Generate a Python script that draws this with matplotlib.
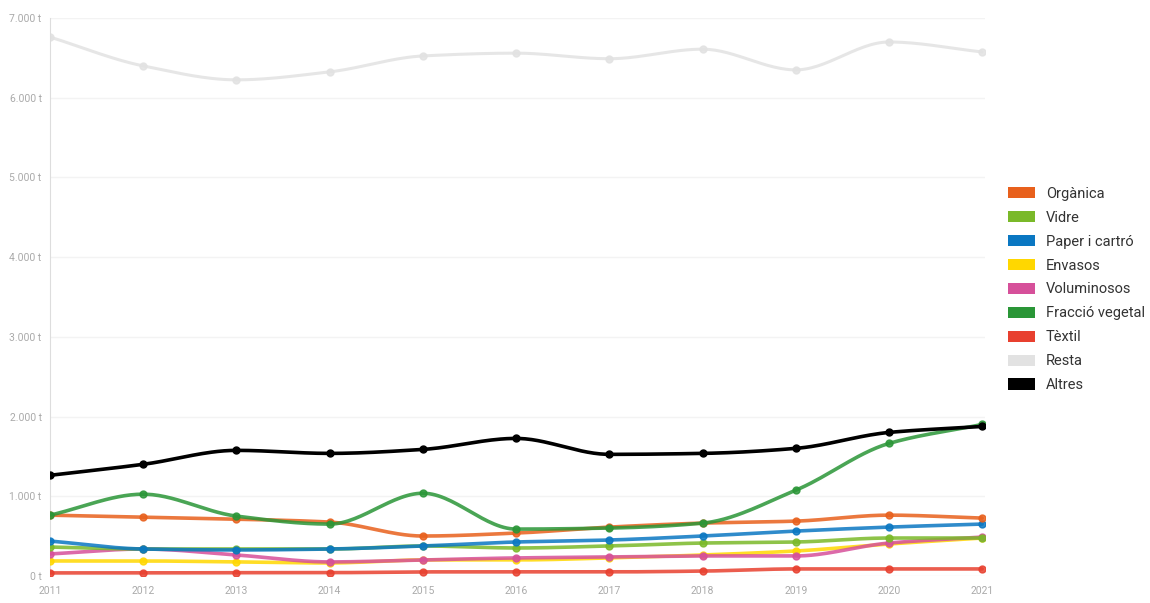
import numpy as np
import matplotlib.pyplot as plt
from matplotlib.patches import Patch

years = [2011, 2012, 2013, 2014, 2015, 2016, 2017, 2018, 2019, 2020, 2021]

organica = [762, 737, 712, 675, 500, 537, 612, 662, 687, 762, 725]
vidre = [362, 337, 337, 337, 375, 350, 375, 412, 425, 475, 475]
paper = [437, 337, 325, 337, 375, 425, 450, 500, 562, 612, 650]
envasos = [187, 187, 175, 162, 200, 200, 225, 262, 312, 400, 475]
voluminosos = [275, 337, 262, 175, 200, 225, 237, 250, 250, 412, 487]
vegetal = [762, 1025, 750, 650, 1037, 587, 600, 662, 1075, 1662, 1900]
textil = [37, 37, 40, 40, 50, 50, 50, 60, 87, 87, 87]
resta = [6762, 6400, 6225, 6325, 6525, 6560, 6490, 6610, 6350, 6700, 6575]
altres = [1262, 1400, 1575, 1537, 1587, 1725, 1525, 1537, 1600, 1800, 1875]

names = ['Orgànica', 'Vidre', 'Paper i cartró', 'Envasos', 'Voluminosos',
         'Fracció vegetal', 'Tèxtil', 'Resta', 'Altres']
colors = ['#E8601C', '#7AB929', '#0A77C2', '#FFD700', '#D6509A',
          '#2A9637', '#E8402F', '#E2E2E2', '#000000']
series = [organica, vidre, paper, envasos, voluminosos, vegetal, textil, resta, altres]


def monotone(x, y, n=30):
    # monotone cubic (Fritsch-Carlson), like d3 curveMonotoneX
    x = np.asarray(x, float)
    y = np.asarray(y, float)
    h = np.diff(x)
    d = np.diff(y) / h
    m = np.zeros_like(y)
    m[0], m[-1] = d[0], d[-1]
    for i in range(1, len(y) - 1):
        if d[i - 1] * d[i] <= 0:
            m[i] = 0
        else:
            m[i] = 3 * (h[i - 1] + h[i]) / ((2 * h[i] + h[i - 1]) / d[i - 1] + (h[i] + 2 * h[i - 1]) / d[i])
    xs, ys = [], []
    for i in range(len(h)):
        t = np.linspace(0, 1, n, endpoint=(i == len(h) - 1))
        h00 = 2 * t**3 - 3 * t**2 + 1
        h10 = t**3 - 2 * t**2 + t
        h01 = -2 * t**3 + 3 * t**2
        h11 = t**3 - t**2
        xs.append(x[i] + t * h[i])
        ys.append(h00 * y[i] + h10 * h[i] * m[i] + h01 * y[i + 1] + h11 * h[i] * m[i + 1])
    return np.concatenate(xs), np.concatenate(ys)


plt.rcParams['font.family'] = ['Roboto', 'DejaVu Sans']
fig = plt.figure(figsize=(11.5, 6.03), dpi=100)
ax = fig.add_axes([0.0435, 0.045, 0.813, 0.925])

order = [7, 6, 3, 4, 1, 2, 0, 5, 8]
for i in order:
    xs, ys = monotone(years, series[i])
    a = 1.0 if i == 8 else 0.85
    lw = 2.2 if i == 7 else 2.6
    ax.plot(xs, ys, color=colors[i], lw=lw, alpha=a, zorder=2 + order.index(i),
            solid_capstyle='round')
    ax.plot(years, series[i], 'o', color=colors[i], ms=5, alpha=a,
            zorder=2 + order.index(i))

ax.set_xlim(2011, 2021.03)
ax.set_ylim(0, 7000)
ax.set_yticks(range(0, 7001, 1000))
ax.set_yticklabels(['0 t'] + ['{:,} t'.format(v).replace(',', '.') for v in range(1000, 7001, 1000)])
ax.set_xticks(years)
ax.set_xticklabels([str(y) for y in years])
ax.tick_params(axis='both', length=0, labelsize=7.5, colors='#aaaaaa')
ax.tick_params(axis='y', pad=6)
ax.tick_params(axis='x', pad=7)
ax.yaxis.grid(True, color='#f3f3f3', lw=1)
ax.set_axisbelow(True)
for s in ['top', 'right', 'bottom']:
    ax.spines[s].set_visible(False)
ax.spines['left'].set_color('#dddddd')

handles = [Patch(facecolor=c, edgecolor='none') for c in colors]
fig.legend(handles, names, loc='center left', bbox_to_anchor=(0.8765, 0.52),
           frameon=False, fontsize=10.5, handlelength=1.85, handleheight=0.8,
           handletextpad=0.75, labelspacing=0.68, borderpad=0, borderaxespad=0,
           labelcolor='#333333')

fig.savefig('out.png', dpi=100)
